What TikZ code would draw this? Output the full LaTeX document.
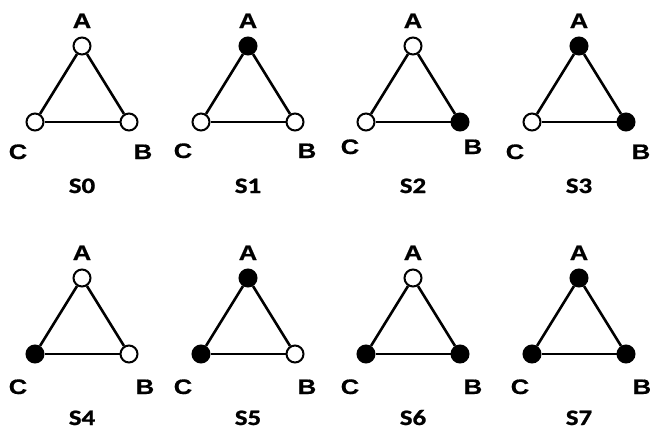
\documentclass[tikz,border=0pt]{standalone}
\usepackage{graphicx}
\usepackage{fontspec}
\setmainfont{Liberation Sans}
\newfontfamily\vlabfont[FakeBold=0.6]{Liberation Sans Bold}
\newfontfamily\slabfont[FakeBold=1]{Carlito Bold}
\tikzset{
  vtx/.style={circle, draw=black, line width=2pt, minimum size=17pt, inner sep=0pt},
  edge/.style={line width=2.6pt},
  vlab/.style={anchor=base, inner sep=0pt, font=\vlabfont\fontsize{21}{21}\selectfont},
  slab/.style={anchor=base, inner sep=0pt, font=\slabfont\fontsize{22}{22}\selectfont},
}
\newcommand\widetxt[1]{\scalebox{1.22}[1]{#1}}
% #1 id, #2 ax, #3 ay, #4 fill A, #5 fill B, #6 fill C, #7 C/B baseline, #8 C x offset, #9 B x offset
\newcommand\tri[9]{%
  \node[vtx, fill=#4] (t#1A) at (#2,#3) {};
  \node[vtx, fill=#5] (t#1B) at (#2+47,#3+76) {};
  \node[vtx, fill=#6] (t#1C) at (#2-47,#3+76) {};
  \draw[edge] (t#1A) -- (t#1B);
  \draw[edge] (t#1B) -- (t#1C);
  \draw[edge] (t#1C) -- (t#1A);
  \node[vlab] (t#1lA) at (#2,#3-18) {\widetxt{A}};
  \node[vlab] (t#1lC) at (#2-#8,#7) {\widetxt{C}};
  \node[vlab] (t#1lB) at (#2+#9,#7) {\widetxt{B}};
  \node[slab] (t#1lS) at (#2,#3+147) {\widetxt{S#1}};
}
\begin{document}
\begin{tikzpicture}[x=1pt,y=-1pt]
\useasboundingbox (0,0) rectangle (650,431);
\tri{0}{82}{46}{white}{white}{white}{159}{64}{61}
\tri{1}{248}{46}{black}{white}{white}{158}{65}{59}
\tri{2}{413}{46}{white}{black}{white}{154}{63}{60}
\tri{3}{579}{46}{black}{black}{white}{159}{64}{62}
\tri{4}{82}{278}{white}{white}{black}{394}{64}{63}
\tri{5}{248}{278}{black}{white}{black}{394}{65}{59}
\tri{6}{413}{278}{white}{black}{black}{394}{63}{60}
\tri{7}{579}{278}{black}{black}{black}{394}{59}{63}
\end{tikzpicture}
\end{document}
